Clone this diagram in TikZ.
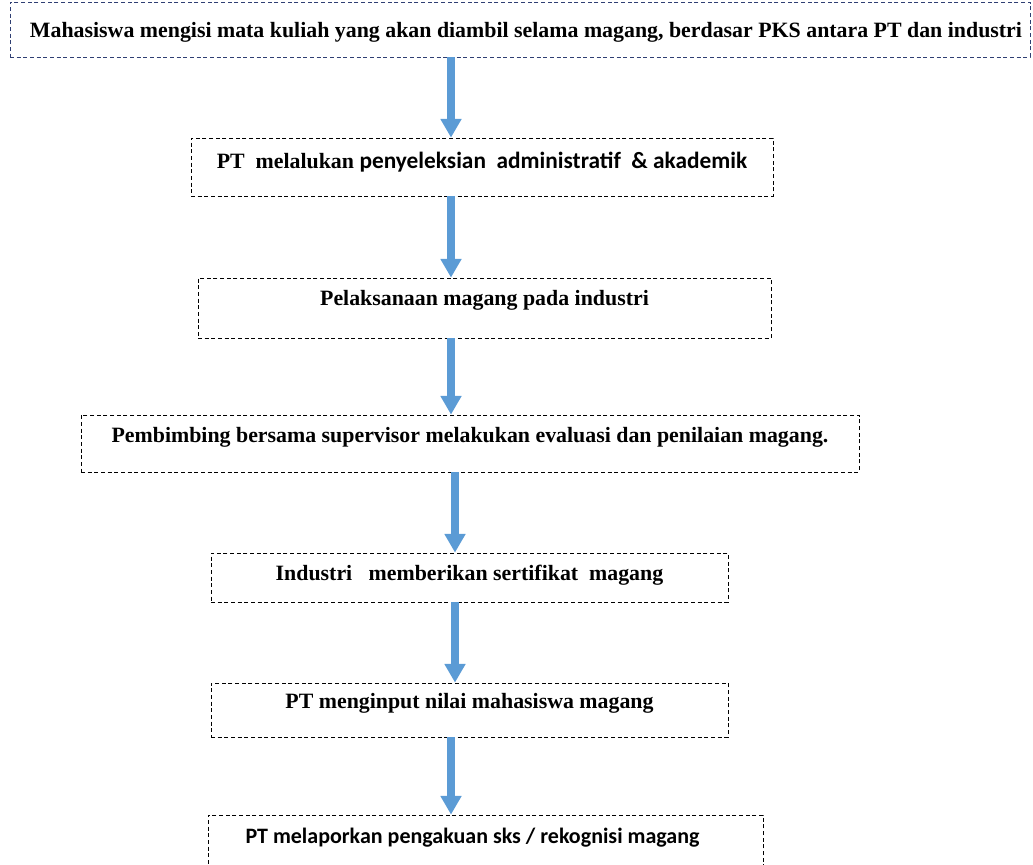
\documentclass[tikz,border=0pt]{standalone}
\usepackage{fontspec}
\setmainfont{Liberation Serif}
\newfontfamily\calfont{Carlito}
\usetikzlibrary{arrows.meta,positioning,calc}

\definecolor{arrowblue}{HTML}{5B9BD5}
\definecolor{navy}{HTML}{2F3F73}

\begin{document}
\begin{tikzpicture}[x=0.75pt, y=-0.75pt,
    box/.style={draw, densely dashed, line width=0.6pt, inner sep=0pt, text height=11pt, text depth=3pt, font=\fontsize{16.4}{19}\selectfont\bfseries},
    flow/.style={-{Triangle[width=15pt,length=14pt]}, line width=6pt, arrowblue}]
    \useasboundingbox (0,0) rectangle (1033,865);

    % Steps
    \node[box, draw=navy, minimum width=765pt, minimum height=41.25pt, text height=15pt] (isi) at (520,29.5) {\hspace*{9pt}Mahasiswa mengisi mata kuliah yang akan diambil selama magang, berdasar PKS antara PT dan industri};
    \node[box, minimum width=436.5pt, minimum height=43.5pt, text depth=9pt] (seleksi) at (482,167) {PT\ \ melalukan {\calfont\fontsize{17.5}{20}\selectfont penyeleksian\ \ administratif\ \ \& akademik}};
    \node[box, minimum width=429.75pt, minimum height=45pt, text depth=15pt] (laksana) at (484.5,308) {Pelaksanaan magang pada industri};
    \node[box, minimum width=583.5pt, minimum height=42.75pt, text depth=13pt] (evaluasi) at (470,443.5) {Pembimbing bersama supervisor melakukan evaluasi dan penilaian magang.};
    \node[box, minimum width=387.75pt, minimum height=36.75pt, text depth=7pt] (sertifikat) at (469.5,577.5) {Industri\ \ \ memberikan sertifikat\ \ magang};
    \node[box, minimum width=387.75pt, minimum height=40.5pt, text depth=13pt] (nilai) at (469.5,710) {PT menginput nilai mahasiswa magang};
    \node[box, minimum width=416.25pt, minimum height=48.75pt, text depth=17pt] (lapor) at (485.5,847.5) {\calfont\fontsize{16.5}{19}\selectfont PT melaporkan pengakuan sks / rekognisi magang\hspace*{19.5pt}};

    % Arrows
    \coordinate (axis) at (451,0);
    \draw[flow] (isi.south -| axis) -- (seleksi.north -| axis);
    \draw[flow] (seleksi.south -| axis) -- (laksana.north -| axis);
    \draw[flow] (laksana.south -| axis) -- (evaluasi.north -| axis);
    \draw[flow] ([xshift=3pt]evaluasi.south -| axis) -- ([xshift=3pt]sertifikat.north -| axis);
    \draw[flow] ([xshift=3pt]sertifikat.south -| axis) -- ([xshift=3pt]nilai.north -| axis);
    \draw[flow] (nilai.south -| axis) -- (lapor.north -| axis);
\end{tikzpicture}
\end{document}
